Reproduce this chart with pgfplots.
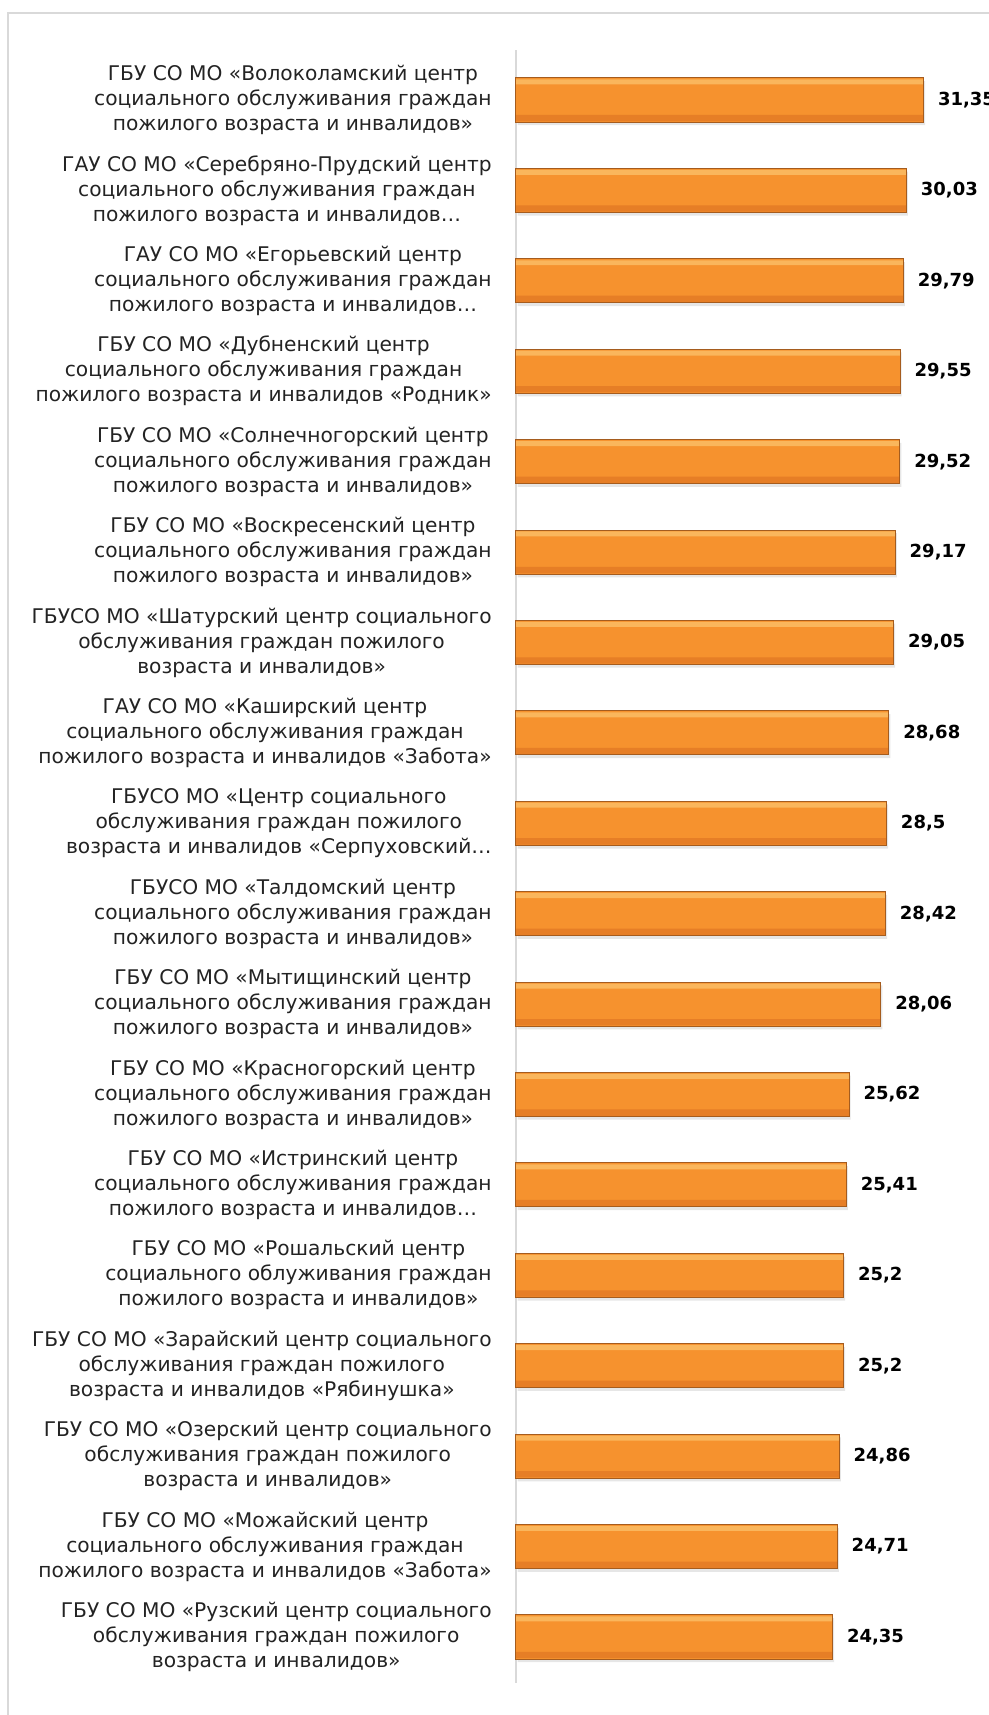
\documentclass[border=0pt]{standalone}
\usepackage{fontspec}
\setmainfont{DejaVu Sans}
\usepackage{pgfplots}
\usepackage{pgfplotstable}
\pgfplotsset{compat=1.18}
\usetikzlibrary{shadows}

\definecolor{barfill}{RGB}{246,146,46}
\definecolor{barhi}{RGB}{250,182,92}
\definecolor{barlo}{RGB}{230,126,38}
\definecolor{baredge}{RGB}{165,92,30}
\definecolor{axgray}{RGB}{217,217,217}
\definecolor{labtext}{RGB}{35,35,35}

\pgfplotstableread{
val pos
31.35 0
30.03 1
29.79 2
29.55 3
29.52 4
29.17 5
29.05 6
28.68 7
28.5 8
28.42 9
28.06 10
25.62 11
25.41 12
25.2 13
25.2 14
24.86 15
24.71 16
24.35 17
}\datatable

\begin{document}
\begin{tikzpicture}
\path[use as bounding box] (0,0) rectangle (494.5pt,857.5pt);
\draw[axgray, line width=1.2pt] (4pt,-5pt) -- (4pt,851pt) -- (500pt,851pt);
\begin{axis}[
  at={(258pt,16pt)}, anchor=south west,
  scale only axis, width=227.5pt, height=816.5pt,
  xmin=0, xmax=35, ymin=-0.553, ymax=17.509, y dir=reverse,
  hide x axis,
  axis y line*=left,
  y axis line style={axgray, line width=0.8pt},
  ytick={0,...,17},
  ytick style={draw=none},
  major tick length=0pt,
  yticklabel style={align=center, font=\fontsize{10.1}{12.5}\selectfont, inner sep=0pt, xshift=-12pt, text=labtext},
  yticklabels={
    {ГБУ СО МО «Волоколамский центр\\социального обслуживания граждан\\пожилого возраста и инвалидов»},
    {ГАУ СО МО «Серебряно-Прудский центр\\социального обслуживания граждан\\пожилого возраста и инвалидов…},
    {ГАУ СО МО «Егорьевский центр\\социального обслуживания граждан\\пожилого возраста и инвалидов…},
    {ГБУ СО МО «Дубненский центр\\социального обслуживания граждан\\пожилого возраста и инвалидов «Родник»},
    {ГБУ СО МО «Солнечногорский центр\\социального обслуживания граждан\\пожилого возраста и инвалидов»},
    {ГБУ СО МО «Воскресенский центр\\социального обслуживания граждан\\пожилого возраста и инвалидов»},
    {ГБУСО МО «Шатурский центр социального\\обслуживания граждан пожилого\\возраста и инвалидов»},
    {ГАУ СО МО «Каширский центр\\социального обслуживания граждан\\пожилого возраста и инвалидов «Забота»},
    {ГБУСО МО «Центр социального\\обслуживания граждан пожилого\\возраста и инвалидов «Серпуховский…},
    {ГБУСО МО «Талдомский центр\\социального обслуживания граждан\\пожилого возраста и инвалидов»},
    {ГБУ СО МО «Мытищинский центр\\социального обслуживания граждан\\пожилого возраста и инвалидов»},
    {ГБУ СО МО «Красногорский центр\\социального обслуживания граждан\\пожилого возраста и инвалидов»},
    {ГБУ СО МО «Истринский центр\\социального обслуживания граждан\\пожилого возраста и инвалидов…},
    {ГБУ СО МО «Рошальский центр\\социального облуживания граждан\\пожилого возраста и инвалидов»},
    {ГБУ СО МО «Зарайский центр социального\\обслуживания граждан пожилого\\возраста и инвалидов «Рябинушка»},
    {ГБУ СО МО «Озерский центр социального\\обслуживания граждан пожилого\\возраста и инвалидов»},
    {ГБУ СО МО «Можайский центр\\социального обслуживания граждан\\пожилого возраста и инвалидов «Забота»},
    {ГБУ СО МО «Рузский центр социального\\обслуживания граждан пожилого\\возраста и инвалидов»}
  },
  clip=false,
]
% base fill with soft shadow
\addplot[xbar, bar width=0.487, bar shift=0, draw=none, fill=barfill,
  drop shadow={opacity=0.2, shadow xshift=0.8pt, shadow yshift=-1.6pt}]
  table[x=val, y=pos] {\datatable};
% top highlight band
\addplot[xbar, bar width=0.055, bar shift=-0.2, draw=none, fill=barhi]
  table[x=val, y=pos] {\datatable};
% bottom darker band
\addplot[xbar, bar width=0.07, bar shift=0.2, draw=none, fill=barlo]
  table[x=val, y=pos] {\datatable};
% outline and value labels
\addplot[xbar, bar width=0.487, bar shift=0, draw=baredge, line width=0.5pt, fill=none,
  nodes near coords,
  every node near coord/.append style={anchor=west, inner sep=0pt, xshift=7pt, text=black,
    font=\bfseries\fontsize{9}{10}\selectfont,
    /pgf/number format/assume math mode=true,
    /pgf/number format/use comma}]
  table[x=val, y=pos] {\datatable};
\end{axis}
\end{tikzpicture}
\end{document}
